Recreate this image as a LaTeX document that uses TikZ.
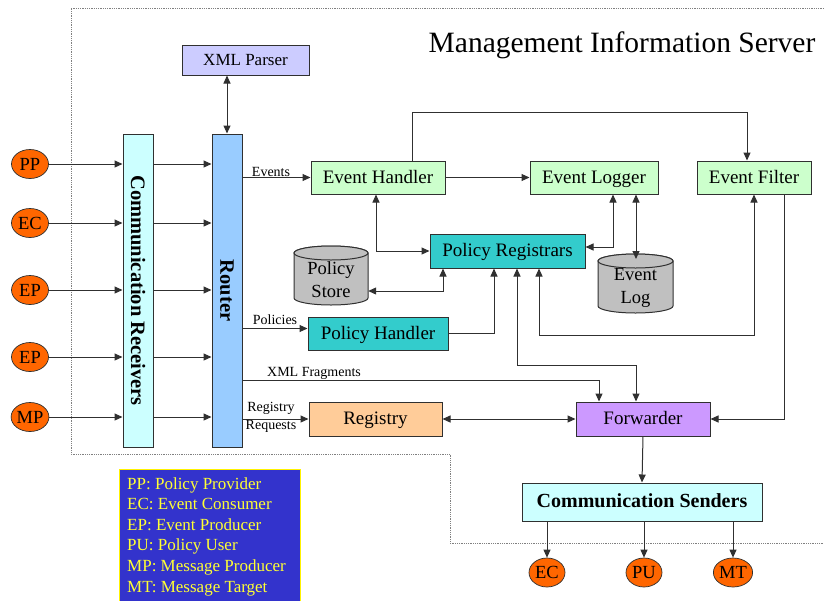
\documentclass[tikz,border=0pt]{standalone}
\usepackage{fontspec}
\setmainfont{Liberation Serif}
\usetikzlibrary{arrows.meta,calc,shapes.geometric}
\definecolor{xmlc}{HTML}{CCCCFF}
\definecolor{cyanc}{HTML}{CCFFFF}
\definecolor{routerc}{HTML}{99CCFF}
\definecolor{greenc}{HTML}{CCFFCC}
\definecolor{tealc}{HTML}{33CCCC}
\definecolor{regc}{HTML}{FFCC99}
\definecolor{fwdc}{HTML}{CC99FF}
\definecolor{orangec}{HTML}{FF6600}
\definecolor{legc}{HTML}{3333CC}
\definecolor{legtext}{HTML}{FFFF33}
\definecolor{cylc}{HTML}{C0C0C0}
\definecolor{linec}{HTML}{303030}
\tikzset{
  box/.style={draw=linec, line width=1pt, minimum height=33, inner sep=0,
    text height=14pt, text depth=3pt, font=\fontsize{19}{21}\selectfont},
  tallbox/.style={draw=linec, line width=1pt, minimum width=30, minimum height=313, inner sep=0},
  vtext/.style={rotate=-90, font=\fontsize{20.5}{22}\selectfont\bfseries, inner sep=0},
  actor/.style={ellipse, draw=linec, line width=0.7pt, fill=orangec, minimum width=37,
    minimum height=29, inner sep=0, font=\fontsize{18.5}{20}\selectfont},
  cyl/.style={draw=linec, line width=1pt, fill=cylc},
  cyltext/.style={align=center, inner sep=0, font=\fontsize{18.5}{23}\selectfont},
  lbl/.style={inner sep=0, font=\fontsize{14}{17}\selectfont},
  arr/.style={draw=linec, line width=1pt, -{Triangle[length=8pt,width=7pt]}},
  dbl/.style={draw=linec, line width=1pt, {Triangle[length=8pt,width=7pt]}-{Triangle[length=8pt,width=7pt]}},
}
\begin{document}
\begin{tikzpicture}[x=1pt,y=-1pt]
\useasboundingbox (0,0) rectangle (824,600);
\clip (0,0) rectangle (824,600);

% dotted frame
\draw[densely dotted, gray, line width=0.8pt] (824,8) -- (71,8) -- (71,454) -- (450,454) -- (450,543) -- (824,543);

\node[font=\fontsize{29.5}{32}\selectfont, inner sep=0] (title) at (622,45) {Management Information Server};

% boxes
\node[box, fill=xmlc, minimum width=127, minimum height=30, text height=12.5pt, text depth=2pt, font=\fontsize{17}{18}\selectfont] (xml) at (245.5,60) {XML Parser};
\node[tallbox, fill=cyanc] (cr) at (138,290.5) {};
\node[vtext] (crtxt) at (cr) {Communication Receivers};
\node[tallbox, fill=routerc] (router) at (227,290.5) {};
\node[vtext] (routertxt) at (router) {Router};

\node[box, fill=greenc, minimum width=134] (eh) at (378,177.5) {Event Handler};
\node[box, fill=greenc, minimum width=128] (el) at (594,177.5) {Event Logger};
\node[box, fill=greenc, minimum width=114] (ef) at (754,177.5) {Event Filter};
\node[box, fill=tealc, minimum width=155, minimum height=34] (pr) at (507.5,251) {Policy Registrars};
\node[box, fill=tealc, minimum width=140, minimum height=33] (ph) at (378,333.5) {Policy Handler};
\node[box, fill=regc, minimum width=133, minimum height=34] (reg) at (375.5,419) {Registry};
\node[box, fill=fwdc, minimum width=134, minimum height=34] (fwd) at (643,419) {Forwarder};
\node[box, fill=cyanc, minimum width=240, minimum height=38, text height=14.5pt, text depth=3pt, font=\fontsize{20}{22}\selectfont\bfseries] (cs) at (642,502) {Communication Senders};

% cylinders
\path[cyl] (294,253) -- (294,298) arc[start angle=180, end angle=360, x radius=37pt, y radius=7pt]
  -- (368,253) arc[start angle=0, end angle=180, x radius=37pt, y radius=7pt] -- cycle;
\draw[cyl] (331,253) ellipse [x radius=37pt, y radius=7pt];
\node[cyltext, minimum width=74, minimum height=60] (pstore) at (331,280) {Policy\\Store};

\path[cyl] (598,261) -- (598,306) arc[start angle=180, end angle=360, x radius=37.5pt, y radius=7pt]
  -- (673,261) arc[start angle=0, end angle=180, x radius=37.5pt, y radius=7pt] -- cycle;
\draw[cyl] (635.5,261) ellipse [x radius=37.5pt, y radius=7pt];
\node[cyltext, minimum width=75, minimum height=60] (elog) at (635.5,288) {Event\\Log};
\coordinate (elogtop) at (636,259);

% actors
\node[actor] (pp) at (30,164) {PP};
\node[actor] (ec1) at (30,223) {EC};
\node[actor] (ep1) at (30,290) {EP};
\node[actor] (ep2) at (30,357) {EP};
\node[actor] (mp) at (30,417) {MP};
\node[actor, minimum width=36] (ec2) at (547,572.5) {EC};
\node[actor, minimum width=36] (pu) at (644,572.5) {PU};
\node[actor, minimum width=37] (mt) at (733,572.5) {MT};

% legend
\node[draw=yellow, line width=0.8pt, fill=legc, minimum width=181, minimum height=137, anchor=north west, inner sep=0] (leg) at (119,469) {};
\node[anchor=north west, align=left, inner sep=0, text=legtext, font=\fontsize{17}{20.6}\selectfont] (legtxt) at (127,477)
 {PP: Policy Provider\\EC: Event Consumer\\EP: Event Producer\\PU: Policy User\\MP: Message Producer\\MT: Message Target};

% actor -> receivers -> router
\foreach \a in {pp,ec1,ep1,ep2,mp}{
  \draw[arr] (\a.east) -- (\a.east -| cr.west);
  \draw[arr] (\a.east -| cr.east) -- (\a.east -| router.west);
}
\draw[dbl] (xml.south -| router) -- (router.north);

% router outputs
\draw[arr] (router.east |- eh.west) -- (eh.west);
\node[lbl] (lev) at (271,172) {Events};
\coordinate (phin) at ($(ph.west)+(0,-5)$);
\draw[arr] (router.east |- phin) -- (phin);
\node[lbl] (lpol) at (275,320) {Policies};
\coordinate (xf) at (599,380);
\draw[arr] (router.east |- xf) -- (xf) -- (xf |- fwd.north);
\node[lbl] (lxml) at (314,373) {XML Fragments};
\draw[arr] (router.east |- reg.west) -- (reg.west);
\node[lbl, align=center, font=\fontsize{14}{18}\selectfont] (lreg) at (271,417) {Registry\\Requests};

% event handler links
\draw[arr] (eh.east) -- (el.west);
\coordinate (ehtop) at (412,112);
\draw[arr] (ehtop |- eh.north) -- (ehtop) -- (747,112) -- (747,112 |- ef.north);
\coordinate (ehpr) at (376,251);
\draw[dbl] (ehpr |- eh.south) -- (ehpr) -- (pr.west);

% policy store / handler to registrars
\coordinate (pspr) at (443,291);
\draw[dbl] (pstore.east |- pspr) -- (pspr) -- (pspr |- pr.south);
\coordinate (phpr) at (494,334);
\draw[arr] (ph.east) -- (ph.east -| phpr) -- (phpr |- pr.south);

% registrars <-> forwarder
\coordinate (prf1) at (517,365);
\coordinate (prf2) at (636,365);
\draw[dbl] (prf1 |- pr.south) -- (prf1) -- (prf2) -- (prf2 |- fwd.north);

% event filter <-> registrars
\coordinate (efp1) at (754,335);
\coordinate (efp2) at (539,335);
\draw[dbl] (efp1 |- ef.south) -- (efp1) -- (efp2) -- (efp2 |- pr.south);

% event logger links
\coordinate (elp) at (613,247);
\draw[dbl] (elp |- el.south) -- (elp) -- (elp -| pr.east);
\draw[dbl] (elogtop |- el.south) -- (elogtop);

% event filter -> forwarder
\coordinate (eff) at (784,419);
\draw[arr] (eff |- ef.south) -- (eff) -- (fwd.east);

% registry <-> forwarder
\draw[dbl] (reg.east) -- (fwd.west);

% forwarder -> senders -> actors
\draw[arr] (fwd.south) -- (cs.north);
\draw[arr] (ec2 |- cs.south) -- (ec2.north);
\draw[arr] (pu |- cs.south) -- (pu.north);
\draw[arr] (mt |- cs.south) -- (mt.north);
\end{tikzpicture}
\end{document}
